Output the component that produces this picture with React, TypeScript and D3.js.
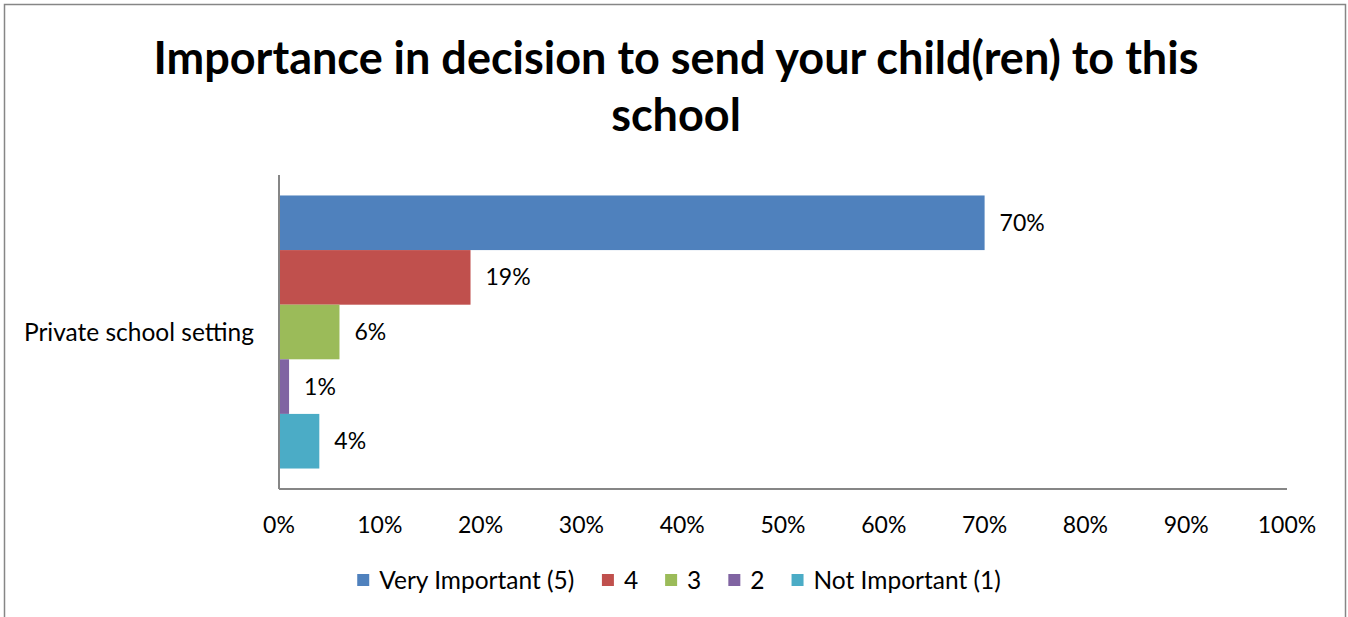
import React from "react";
import * as d3 from "d3";

const categories = ["Private school setting"];
const seriesNames = ["Very Important (5)", "4", "3", "2", "Not Important (1)"];
const seriesValues = [0.70, 0.19, 0.06, 0.01, 0.04];
const seriesColors = ["#4F81BD", "#C0504D", "#9BBB59", "#8064A2", "#4BACC6"];
const xTicks = [0, 0.1, 0.2, 0.3, 0.4, 0.5, 0.6, 0.7, 0.8, 0.9, 1.0];
const titleLines = ["Importance in decision to send your child(ren) to this", "school"];

const W = 1348;
const H = 617;
const FONT = "Lato, 'Open Sans', sans-serif";

function measure(text: string, size: number) {
  const c = document.createElement("canvas").getContext("2d");
  if (!c) return text.length * size * 0.5;
  c.font = `${size}px Lato`;
  return c.measureText(text).width;
}

export default function App() {
  const plot = { left: 279, right: 1287, top: 175, bottom: 489 };
  const x = d3.scaleLinear().domain([0, 1]).range([plot.left, plot.right]);
  const y = d3.scaleBand().domain(categories).range([plot.top, plot.bottom]).paddingInner(0).paddingOuter(0.075);
  const inner = d3.scaleBand().domain(seriesNames).range([0, y.bandwidth()]);
  const fmt = d3.format(".0%");

  // legend layout
  const legSize = 24.5;
  const sq = 12;
  const gapSq = 10;
  const gapItem = 27;
  let lx = 0;
  const legItems = seriesNames.map((n, i) => {
    const item = { n, i, x: lx };
    lx += sq + gapSq + measure(n, legSize) + gapItem;
    return item;
  });
  const legW = lx - gapItem;
  const legStart = 679 - legW / 2;

  return (
    <svg width={W} height={H} style={{ position: "absolute", left: 0, top: 0, display: "block" }} fontFamily={FONT}>
      <rect x={0} y={0} width={W} height={H} fill="#fff" />
      <path d={`M4.5,${H} V4.5 H1345.5 V${H}`} fill="none" stroke="#868686" strokeWidth={1.5} />
      {titleLines.map((t, i) => (
        <text key={i} x={676} y={74 + i * 57} textAnchor="middle" fontSize={45} fontWeight="bold" fill="#000">
          {t}
        </text>
      ))}
      {categories.map((c) => (
        <g key={c}>
          {seriesNames.map((s, i) => {
            const y0 = (y(c) ?? 0) + (inner(s) ?? 0);
            const v = seriesValues[i];
            return (
              <g key={s}>
                <rect x={x(0)} y={y0} width={x(v) - x(0)} height={inner.bandwidth()} fill={seriesColors[i]} />
                <text x={x(v) + 15} y={y0 + inner.bandwidth() / 2} dy="0.35em" fontSize={23} fill="#000">
                  {fmt(v)}
                </text>
              </g>
            );
          })}
          <text x={254} y={(y(c) ?? 0) + y.bandwidth() / 2} dy="0.35em" textAnchor="end" fontSize={24.5} fill="#000">
            {c}
          </text>
        </g>
      ))}
      <line x1={plot.left} x2={plot.left} y1={plot.top} y2={plot.bottom} stroke="#868686" strokeWidth={2} />
      <line x1={plot.left} x2={plot.right} y1={plot.bottom} y2={plot.bottom} stroke="#868686" strokeWidth={2} />
      {xTicks.map((t) => (
        <text key={t} x={x(t)} y={525} dy="0.35em" textAnchor="middle" fontSize={23} fill="#000">
          {fmt(t)}
        </text>
      ))}
      <g transform={`translate(${legStart},580)`}>
        {legItems.map((it) => (
          <g key={it.n} transform={`translate(${it.x},0)`}>
            <rect x={0} y={-sq / 2} width={sq} height={sq} fill={seriesColors[it.i]} />
            <text x={sq + gapSq} y={0} dy="0.35em" fontSize={legSize} fill="#000">
              {it.n}
            </text>
          </g>
        ))}
      </g>
    </svg>
  );
}
